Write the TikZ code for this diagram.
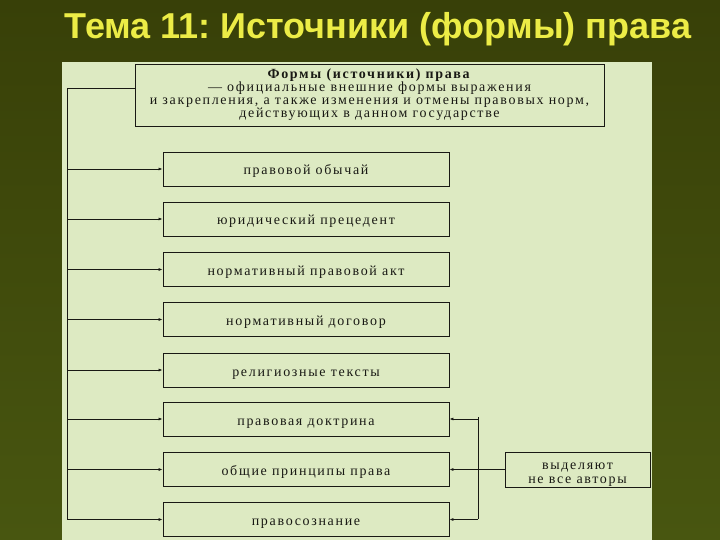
\documentclass[tikz,border=0pt]{standalone}
\usepackage{fontspec}
\setmainfont{Liberation Serif}
\newfontfamily\titlefont{Liberation Sans}
\newfontfamily\boxfont[LetterSpace=12]{Liberation Serif}
\usetikzlibrary{arrows.meta}
\definecolor{bgdark}{RGB}{56,64,8}
\definecolor{bglight}{RGB}{72,86,16}
\definecolor{panel}{RGB}{221,234,194}
\definecolor{titlecol}{RGB}{236,236,70}
\definecolor{ink}{RGB}{25,25,20}
\tikzset{
  formbox/.style={draw=ink, line width=0.8pt, minimum width=286pt, minimum height=34pt, inner sep=0pt,
    text height=12pt, text depth=0pt,
    font=\boxfont\fontsize{14}{13}\selectfont, text=ink},
  notebox/.style={draw=ink, line width=0.8pt, minimum width=145pt, minimum height=35pt, inner sep=0pt,
    text height=31pt,
    font=\boxfont\fontsize{14}{14}\selectfont, text=ink, align=center},
  topbox/.style={draw=ink, line width=0.8pt, minimum width=469pt, minimum height=62pt, inner sep=0pt,
    font=\boxfont\fontsize{14}{13}\selectfont, text=ink, align=center},
  link/.style={draw=ink, line width=0.7pt},
  arr/.style={link, -{Latex[length=4pt,width=3pt]}}
}
\begin{document}
\frenchspacing
\begin{tikzpicture}[x=1pt,y=-1pt]
\useasboundingbox (0,0) rectangle (720,540);
\shade[top color=bgdark, bottom color=bglight] (0,0) rectangle (720,540);
\fill[panel] (62,62) rectangle (652,545);
\node[font=\titlefont\bfseries\fontsize{36}{40}\selectfont, text=titlecol] (title) at (378,29) {Тема 11: Источники (формы) права};
\node[topbox] (top) at (369.5,95) {\textbf{Формы (источники) права}\\— официальные внешние формы выражения\\и закрепления, а также изменения и отмены правовых норм,\\действующих в данном государстве};
\node[formbox] (b1) at (306,169) {правовой обычай};
\node[formbox] (b2) at (306,219) {юридический прецедент};
\node[formbox] (b3) at (306,269.5) {нормативный правовой акт};
\node[formbox] (b4) at (306,319.5) {нормативный договор};
\node[formbox] (b5) at (306,370) {религиозные тексты};
\node[formbox] (b6) at (306,419) {правовая доктрина};
\node[formbox] (b7) at (306,469.5) {общие принципы права};
\node[formbox] (b8) at (306,519.5) {правосознание};
\node[notebox] (note) at (577.5,469.5) {выделяют\\не все авторы};
\coordinate (tl) at (135,88);
\coordinate (L0) at (67,88);
\coordinate (L1) at (67,520);
\draw[link] (tl) -- (L0) -- (L1);
\foreach \b in {b1,b2,b3,b4,b5,b6,b7,b8}{
  \draw[arr] (\b.west -| L0) -- (\b.west);
}
\coordinate (R0) at (478,417);
\coordinate (R1) at (478,519);
\draw[link] (R0) -- (R1);
\draw[arr] (b6.east -| R0) -- (b6.east);
\draw[arr] (note.west) -- (b7.east);
\draw[arr] (b8.east -| R0) -- (b8.east);
\end{tikzpicture}
\end{document}
